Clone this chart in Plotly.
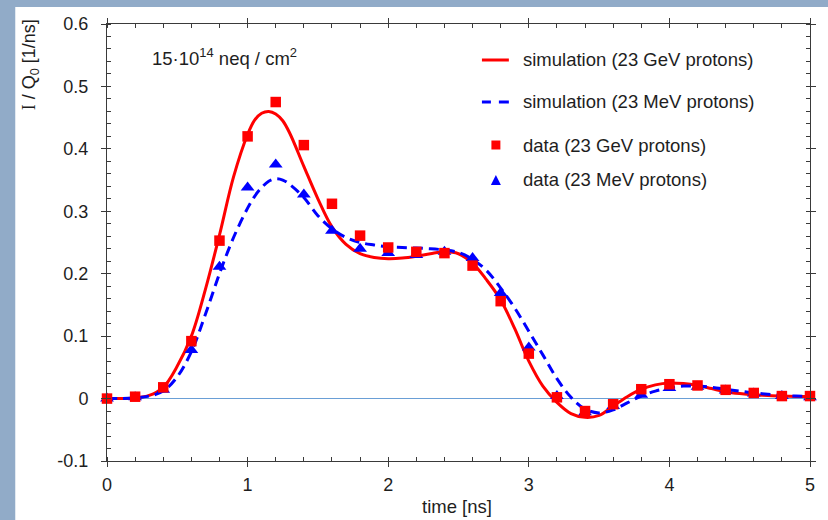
import plotly.graph_objects as go

# ---------------- data ----------------
data_t = [0.0, 0.2, 0.4, 0.6, 0.8, 1.0, 1.2, 1.4, 1.6, 1.8, 2.0, 2.2, 2.4,
          2.6, 2.8, 3.0, 3.2, 3.4, 3.6, 3.8, 4.0, 4.2, 4.4, 4.6, 4.8, 5.0]
data_gev = [0.0, 0.003, 0.018, 0.092, 0.253, 0.420, 0.475, 0.406, 0.312, 0.261,
            0.242, 0.235, 0.233, 0.213, 0.156, 0.072, 0.002, -0.020, -0.009,
            0.015, 0.023, 0.021, 0.014, 0.009, 0.004, 0.004]
data_mev = [0.0, 0.002, 0.014, 0.078, 0.211, 0.338, 0.375, 0.327, 0.269, 0.240,
            0.233, 0.230, 0.235, 0.225, 0.169, 0.082, 0.004, -0.022, -0.012,
            0.006, 0.017, 0.019, 0.013, 0.008, 0.004, 0.002]

sim_t = [0.0, 0.1, 0.2, 0.3, 0.4, 0.5, 0.6, 0.7, 0.8, 0.9, 1.0, 1.05, 1.1, 1.15,
         1.2, 1.25, 1.3, 1.4, 1.5, 1.6, 1.7, 1.8, 1.9, 2.0, 2.1, 2.2, 2.3, 2.4,
         2.5, 2.6, 2.7, 2.8, 2.9, 3.0, 3.1, 3.2, 3.3, 3.4, 3.5, 3.6, 3.7, 3.8,
         3.9, 4.0, 4.1, 4.2, 4.3, 4.4, 4.5, 4.6, 4.7, 4.8, 4.9, 5.0]
sim_gev = [0.0, 0.0, 0.001, 0.005, 0.018, 0.052, 0.100, 0.175, 0.262, 0.355,
           0.423, 0.446, 0.457, 0.460, 0.456, 0.445, 0.425, 0.372, 0.320, 0.275,
           0.247, 0.232, 0.226, 0.224, 0.225, 0.228, 0.232, 0.235, 0.232, 0.217,
           0.190, 0.158, 0.112, 0.060, 0.020, -0.006, -0.024, -0.030, -0.027,
           -0.012, 0.003, 0.015, 0.022, 0.025, 0.024, 0.021, 0.016, 0.011, 0.008,
           0.006, 0.005, 0.004, 0.0035, 0.0035]
sim_mev = [0.0, 0.0, 0.001, 0.004, 0.012, 0.035, 0.075, 0.135, 0.200, 0.258,
           0.305, 0.324, 0.338, 0.348, 0.352, 0.350, 0.343, 0.322, 0.293, 0.272,
           0.258, 0.250, 0.246, 0.243, 0.242, 0.241, 0.240, 0.238, 0.234, 0.223,
           0.205, 0.177, 0.145, 0.108, 0.070, 0.032, 0.002, -0.017, -0.023,
           -0.018, -0.007, 0.004, 0.012, 0.017, 0.020, 0.020, 0.018, 0.015,
           0.012, 0.009, 0.007, 0.005, 0.004, 0.003]

x_tickvals = [0, 1, 2, 3, 4, 5]
x_ticktext = ["0", "1", "2", "3", "4", "5"]
y_tickvals = [-0.1, 0.0, 0.1, 0.2, 0.3, 0.4, 0.5, 0.6]
y_ticktext = ["-0.1", "0", "0.1", "0.2", "0.3", "0.4", "0.5", "0.6"]

legend_labels = ["simulation (23 GeV protons)", "simulation (23 MeV protons)",
                 "data (23 GeV protons)", "data (23 MeV protons)"]

# ---------------- layout geometry ----------------
W, H = 828, 520
L, R, T, B = 107, 812, 24, 461
PW, PH = R - L, B - T

def px(x):
    return (x - L) / PW

def py(y):
    return (B - y) / PH

FONT = "Liberation Sans, Arial, sans-serif"
TXT = "#1e1e1e"
AX = "#3a3a3a"
RED = "#ff0000"
BLUE = "#0000ff"

fig = go.Figure()

fig.add_trace(go.Scatter(x=sim_t, y=sim_gev, mode="lines", line_shape="spline",
                         line=dict(color=RED, width=3), showlegend=False,
                         cliponaxis=False))
fig.add_trace(go.Scatter(x=sim_t, y=sim_mev, mode="lines", line_shape="spline",
                         line=dict(color=BLUE, width=3, dash="10px,6px"),
                         showlegend=False, cliponaxis=False))
fig.add_trace(go.Scatter(x=data_t, y=data_mev, mode="markers",
                         marker=dict(symbol="triangle-up", size=12, color=BLUE),
                         showlegend=False, cliponaxis=False))
fig.add_trace(go.Scatter(x=data_t, y=data_gev, mode="markers",
                         marker=dict(symbol="square", size=10.5, color=RED),
                         showlegend=False, cliponaxis=False))

shapes = []
# white page area over blue frame
shapes.append(dict(type="rect", xref="paper", yref="paper", layer="below",
                   x0=px(15), x1=px(W + 5), y0=py(H + 5), y1=py(7),
                   fillcolor="white", line=dict(width=0)))
# manual legend samples
shapes.append(dict(type="line", xref="paper", yref="paper",
                   x0=px(483), x1=px(510), y0=py(60), y1=py(60),
                   line=dict(color=RED, width=3)))
shapes.append(dict(type="line", xref="paper", yref="paper",
                   x0=px(483), x1=px(492), y0=py(102), y1=py(102),
                   line=dict(color=BLUE, width=3)))
shapes.append(dict(type="line", xref="paper", yref="paper",
                   x0=px(500), x1=px(510), y0=py(102), y1=py(102),
                   line=dict(color=BLUE, width=3)))
shapes.append(dict(type="rect", xref="paper", yref="paper",
                   x0=px(492.5), x1=px(501.5), y0=py(149.5), y1=py(140.5),
                   fillcolor=RED, line=dict(width=0)))
shapes.append(dict(type="path", xref="paper", yref="paper",
                   path=f"M {px(492)} {py(185)} L {px(502)} {py(185)} L {px(497)} {py(175)} Z",
                   fillcolor=BLUE, line=dict(width=0)))

annotations = []
for lab, yy in zip(legend_labels, [60, 102, 145, 180]):
    annotations.append(dict(text=lab, xref="paper", yref="paper",
                            x=px(522), y=py(yy), xanchor="left", yanchor="middle",
                            showarrow=False, font=dict(family=FONT, size=18.5, color=TXT)))
annotations.append(dict(text="15·10<sup>14</sup> neq / cm<sup>2</sup>",
                        xref="paper", yref="paper", x=px(150), y=py(57),
                        xanchor="left", yanchor="middle", showarrow=False,
                        font=dict(family=FONT, size=18.5, color=TXT)))
annotations.append(dict(text="<span style='font-family:Liberation Serif, Times New Roman, serif'>I</span> / Q<sub>0</sub> [1/ns]",
                        xref="paper", yref="paper", x=px(30), y=py(65),
                        xanchor="center", yanchor="middle", textangle=-90,
                        showarrow=False, font=dict(family=FONT, size=18, color=TXT)))
annotations.append(dict(text="time [ns]", xref="paper", yref="paper",
                        x=px(458), y=py(506), xanchor="center", yanchor="middle",
                        showarrow=False, font=dict(family=FONT, size=18.5, color=TXT)))

common = dict(showgrid=False, showline=True, linecolor=AX, linewidth=1,
              mirror="ticks", ticks="outside", ticklen=5, tickcolor=AX,
              tickwidth=1, tickfont=dict(family=FONT, size=18, color=TXT))

fig.update_layout(
    width=W, height=H,
    margin=dict(l=L, r=W - R, t=T, b=H - B, pad=0),
    paper_bgcolor="#91abc8", plot_bgcolor="white",
    showlegend=False,
    shapes=shapes, annotations=annotations,
    xaxis=dict(range=[0, 5], tickvals=x_tickvals, ticktext=x_ticktext,
               zeroline=False, ticklabelstandoff=2,
               minor=dict(dtick=0.2, ticks="inside", ticklen=4, tickcolor=AX),
               **common),
    yaxis=dict(range=[-0.1, 0.6], tickvals=y_tickvals, ticktext=y_ticktext,
               zeroline=True, zerolinecolor="#6a9fd6", zerolinewidth=1,
               ticklabelstandoff=9,
               minor=dict(dtick=0.02, ticks="inside", ticklen=4, tickcolor=AX),
               **common),
    xaxis2=dict(range=[0, 5], overlaying="x", anchor="y", tickvals=x_tickvals,
                showticklabels=False, ticks="inside", ticklen=5, tickcolor=AX,
                mirror="ticks", showline=False, showgrid=False, zeroline=False),
    yaxis2=dict(range=[-0.1, 0.6], overlaying="y", anchor="x", tickvals=y_tickvals,
                showticklabels=False, ticks="inside", ticklen=5, tickcolor=AX,
                mirror="ticks", showline=False, showgrid=False, zeroline=False),
)

fig.write_html("out.html")
